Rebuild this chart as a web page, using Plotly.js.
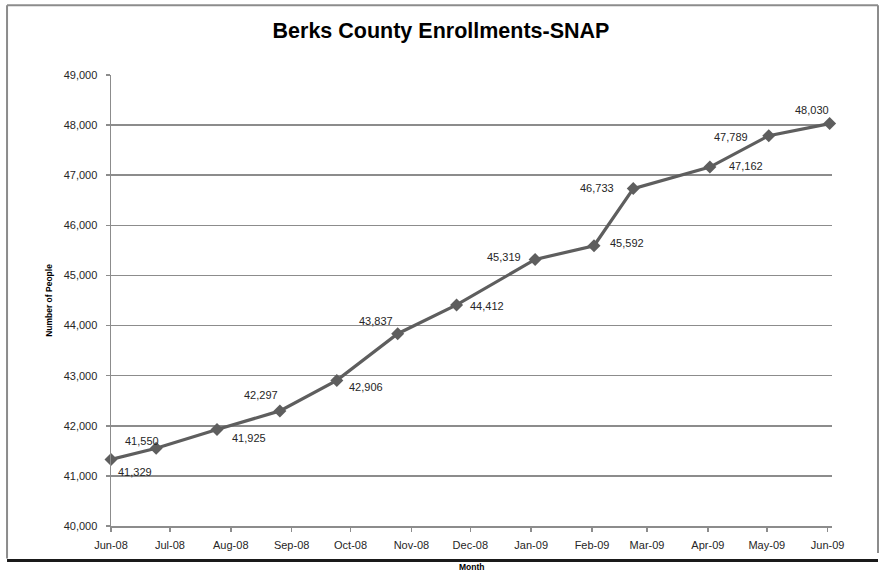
<!DOCTYPE html>
<html>
<head>
<meta charset="utf-8">
<script src="https://cdn.plot.ly/plotly-3.0.1.min.js"></script>
<style>
  html, body { margin: 0; padding: 0; background: #ffffff; }
  #chart { width: 882px; height: 572px; }
</style>
</head>
<body>
<div id="chart"></div>
<script>
// ---- data ----
const dates = [
  '2008-06-01', '2008-06-24', '2008-07-25', '2008-08-26', '2008-09-24',
  '2008-10-25', '2008-11-24', '2009-01-03', '2009-02-02', '2009-02-22',
  '2009-04-02', '2009-05-02', '2009-06-02'
];
const enrollments = [
  41329, 41550, 41925, 42297, 42906,
  43837, 44412, 45319, 45592, 46733,
  47162, 47789, 48030
];
const tickDates = [
  '2008-06-01', '2008-07-01', '2008-08-01', '2008-09-01', '2008-10-01',
  '2008-11-01', '2008-12-01', '2009-01-01', '2009-02-01', '2009-03-01',
  '2009-04-01', '2009-05-01', '2009-06-01'
];
const tickLabels = [
  'Jun-08', 'Jul-08', 'Aug-08', 'Sep-08', 'Oct-08', 'Nov-08', 'Dec-08',
  'Jan-09', 'Feb-09', 'Mar-09', 'Apr-09', 'May-09', 'Jun-09'
];
const titleText = 'Berks County Enrollments-SNAP';
const yTitle = 'Number of People';
const xTitle = 'Month';

// ---- style: label offsets (pixels) ----
const labelDX = [24, -14, 32, -19, 29, -22, 30, -31, 33, -36, 36, -38, -18];
const labelDY = [-13, 7, -8, 16, -7, 13, -1, 2, 3, 1, 1, -1, 14];

const font = '"Liberation Sans Narrow", "Liberation Sans", Arial, sans-serif';
const gridCol = '#8c8c8c';

const fmt = v => v.toLocaleString('en-US');

const trace = {
  x: dates,
  y: enrollments,
  type: 'scatter',
  mode: 'lines+markers',
  line: { color: '#5e5e5e', width: 3.2 },
  marker: { symbol: 'diamond', size: 10, color: '#5e5e5e' },
  hoverinfo: 'skip',
  cliponaxis: false
};

const annotations = enrollments.map((v, i) => ({
  x: dates[i], y: v, xref: 'x', yref: 'y',
  text: fmt(v), showarrow: false,
  xshift: labelDX[i], yshift: labelDY[i],
  font: { family: font, size: 11, color: '#262626' }
}));

annotations.push({
  xref: 'paper', yref: 'paper', x: 0.5, y: -0.0905,
  xanchor: 'center', yanchor: 'middle', showarrow: false,
  text: '<b>' + xTitle + '</b>',
  font: { family: font, size: 8.5, color: '#000000' }
});

const layout = {
  width: 882, height: 572,
  margin: { l: 111, r: 50, t: 75, b: 46 },
  paper_bgcolor: '#ffffff', plot_bgcolor: '#ffffff',
  showlegend: false,
  title: {
    text: '<b>' + titleText + '</b>',
    font: { family: font, size: 21.5, color: '#000000' },
    x: 0.5, xanchor: 'center', xref: 'container',
    y: 0.947, yanchor: 'middle', yref: 'container'
  },
  xaxis: {
    type: 'date',
    range: ['2008-06-01', '2009-06-03 05:00'],
    tickvals: tickDates, ticktext: tickLabels,
    showgrid: false, zeroline: false,
    showline: true, linecolor: gridCol, linewidth: 1.5,
    ticks: 'outside', ticklen: 4, tickcolor: gridCol, tickwidth: 1.5,
    tickfont: { family: font, size: 11, color: '#262626' },
    ticklabelstandoff: 4,
    fixedrange: true
  },
  yaxis: {
    range: [40000, 49000], dtick: 1000, tick0: 40000,
    tickformat: ',d',
    showgrid: true, gridcolor: gridCol, gridwidth: 1.5,
    zeroline: false,
    showline: true, linecolor: gridCol, linewidth: 1.5,
    ticks: 'outside', ticklen: 4, tickcolor: gridCol, tickwidth: 1.5,
    tickfont: { family: font, size: 11, color: '#262626' },
    ticklabelstandoff: 6,
    title: { text: '<b>' + yTitle + '</b>', font: { family: font, size: 8.5, color: '#000000' }, standoff: 9 },
    fixedrange: true
  },
  annotations: annotations,
  shapes: [
    // outer chart border (left, top, right)
    { type: 'line', xref: 'paper', yref: 'paper', x0: -0.1442, x1: -0.1442, y0: 1.1544, y1: -0.072, line: { color: '#8c8c8c', width: 2 } },
    { type: 'line', xref: 'paper', yref: 'paper', x0: -0.1442, x1: 1.0638, y0: 1.1544, y1: 1.1544, line: { color: '#8c8c8c', width: 2 } },
    { type: 'line', xref: 'paper', yref: 'paper', x0: 1.0638, x1: 1.0638, y0: 1.1544, y1: -0.06, line: { color: '#8c8c8c', width: 2 } },
    // thick black bottom line
    { type: 'line', xref: 'paper', yref: 'paper', x0: -0.1442, x1: 1.0638, y0: -0.0765, y1: -0.0765, line: { color: '#1a1a1a', width: 3 } }
  ]
};

Plotly.newPlot('chart', [trace], layout, { displayModeBar: false, staticPlot: true });
</script>
</body>
</html>
